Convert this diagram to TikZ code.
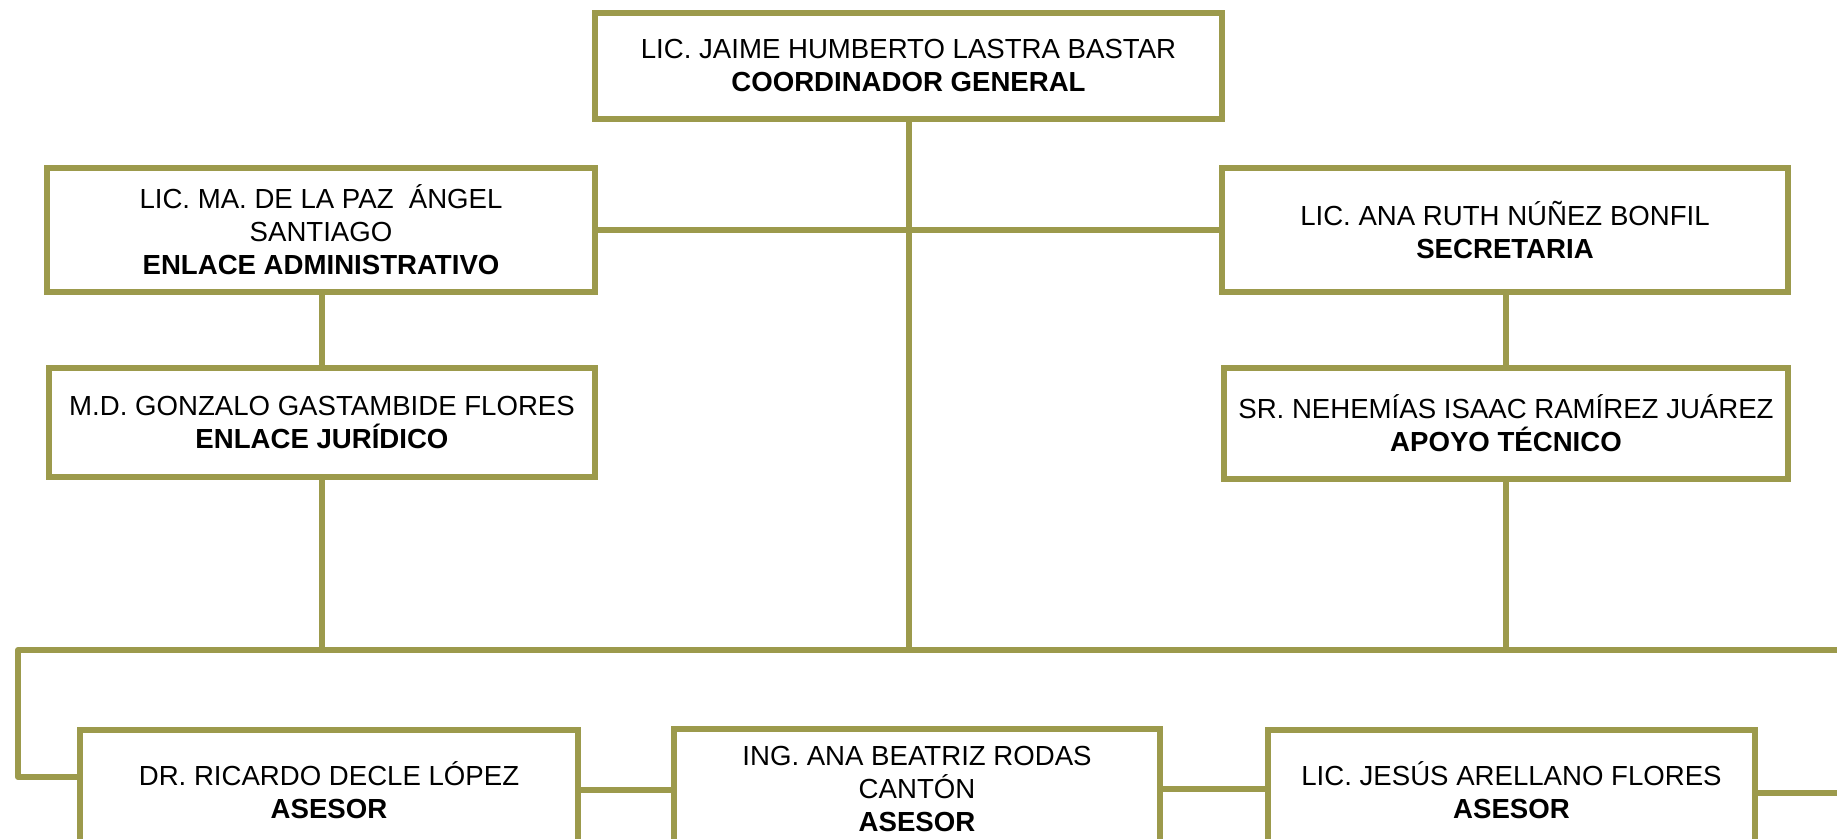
\documentclass[tikz,border=0pt]{standalone}
\usepackage{fontspec}
\setmainfont{Liberation Sans}
\definecolor{orgline}{HTML}{9C9A4C}
\begin{document}
\begin{tikzpicture}[x=0.5pt,y=-0.5pt,
  box/.style={draw=orgline, line width=3pt, fill=white, align=center,
    font=\fontsize{13.8}{16.5}\selectfont, inner sep=0pt},
  conn/.style={draw=orgline, line width=3pt, line join=round}]
\useasboundingbox (0,0) rectangle (1837,839);
\clip (0,0) rectangle (1837,839);
\node[box, minimum width=313.5pt, minimum height=53pt] (top) at (908.5,66)
  {LIC. JAIME HUMBERTO LASTRA BASTAR\\\textbf{COORDINADOR GENERAL}};
\node[box, minimum width=274pt, minimum height=62pt] (adm) at (321,230)
  {LIC. MA. DE LA PAZ\ \ ÁNGEL\\SANTIAGO\\\textbf{ENLACE ADMINISTRATIVO}};
\node[box, minimum width=283pt, minimum height=62pt] (sec) at (1505,230)
  {LIC. ANA RUTH NÚÑEZ BONFIL\\\textbf{SECRETARIA}};
\node[box, minimum width=273pt, minimum height=54.5pt] (jur) at (322,422.5)
  {M.D. GONZALO GASTAMBIDE FLORES\\\textbf{ENLACE JURÍDICO}};
\node[box, minimum width=282pt, minimum height=55.5pt] (tec) at (1506,423.5)
  {SR. NEHEMÍAS ISAAC RAMÍREZ JUÁREZ\\\textbf{APOYO TÉCNICO}};
\node[box, minimum width=249pt, minimum height=60pt] (dr) at (329,790)
  {DR. RICARDO DECLE LÓPEZ\\\textbf{ASESOR}};
\node[box, minimum width=243pt, minimum height=60pt] (ing) at (917,789)
  {ING. ANA BEATRIZ RODAS\\CANTÓN\\\textbf{ASESOR}};
\node[box, minimum width=243.5pt, minimum height=60pt] (jes) at (1511.5,790)
  {LIC. JESÚS ARELLANO FLORES\\\textbf{ASESOR}};
\coordinate (busL) at (18,650);
\coordinate (busR) at (1860,650);
\coordinate (drin) at (18,777);
\coordinate (jesout) at (1860,793);
\draw[conn] (top.south) -- (top.south |- busL);
\draw[conn] (adm.east) -- (sec.west);
\draw[conn] (jur.north) -- (jur.north |- adm.south);
\draw[conn] (jur.south) -- (jur.south |- busL);
\draw[conn] (tec.north) -- (tec.north |- sec.south);
\draw[conn] (tec.south) -- (tec.south |- busL);
\draw[conn] (busR) -- (busL) -- (drin) -- (drin -| dr.west);
\draw[conn] (dr.east) -- (dr.east -| ing.west);
\draw[conn] (ing.east) -- (ing.east -| jes.west);
\draw[conn] (jes.east |- jesout) -- (jesout);
\end{tikzpicture}
\end{document}
